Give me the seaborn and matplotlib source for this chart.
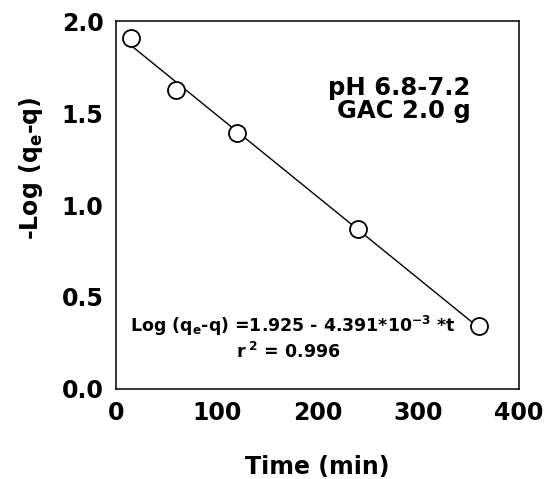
import matplotlib
matplotlib.use("Agg")
import matplotlib.pyplot as plt
import seaborn as sns
import numpy as np
import pandas as pd

# Data
time_min = [15, 60, 120, 240, 360]
neg_log = [1.91, 1.625, 1.39, 0.87, 0.34]
x_ticks = [0, 100, 200, 300, 400]
y_ticks = [0.0, 0.5, 1.0, 1.5, 2.0]
y_tick_labels = ["0.0", "0.5", "1.0", "1.5", "2.0"]

sns.set_theme(style="white")
plt.rcParams["font.family"] = ["DejaVu Sans"]
plt.rcParams["mathtext.fontset"] = "dejavusans"
plt.rcParams["mathtext.default"] = "bf"
plt.rcParams["text.color"] = "black"
plt.rcParams["axes.labelcolor"] = "black"

df = pd.DataFrame({"t": time_min, "y": neg_log})

fig = plt.figure(figsize=(5.47, 4.79), dpi=100)
ax = fig.add_axes([0.212, 0.188, 0.737, 0.768])

sns.regplot(data=df, x="t", y="y", ax=ax, ci=None,
            scatter_kws=dict(s=150, facecolor="white", edgecolor="black",
                             linewidths=1.3, zorder=3, alpha=1),
            line_kws=dict(color="black", lw=1.0, zorder=2))

ax.set_xlim(0, 400)
ax.set_ylim(0, 2.0)
ax.set_xticks(x_ticks)
ax.set_yticks(y_ticks)
ax.set_yticklabels(y_tick_labels)
ax.tick_params(direction="in", length=5, width=1, colors="black",
               labelsize=17, pad=9)
for lab in ax.get_xticklabels() + ax.get_yticklabels():
    lab.set_fontweight("bold")
for s in ax.spines.values():
    s.set_color("black")
    s.set_linewidth(1.1)

ax.set_xlabel("Time (min)", fontsize=17, fontweight="bold", labelpad=21)
ax.set_ylabel("-Log (q$_e$-q)", fontsize=17, fontweight="bold")
ax.yaxis.set_label_coords(-0.175, 0.60)

ax.text(0.88, 0.799, "pH 6.8-7.2", transform=ax.transAxes,
        ha="right", va="baseline", fontsize=17.5, fontweight="bold")
ax.text(0.88, 0.736, "GAC 2.0 g", transform=ax.transAxes,
        ha="right", va="baseline", fontsize=17.5, fontweight="bold")
ax.text(0.035, 0.172, "Log (q$_e$-q) =1.925 - 4.391*10$^{-3}$ *t",
        transform=ax.transAxes, ha="left", va="center",
        fontsize=12.5, fontweight="bold")
ax.text(0.427, 0.1, "r$^{\\ 2}$ = 0.996", transform=ax.transAxes,
        ha="center", va="center", fontsize=12.5, fontweight="bold")

fig.savefig("out.png", dpi=100)
